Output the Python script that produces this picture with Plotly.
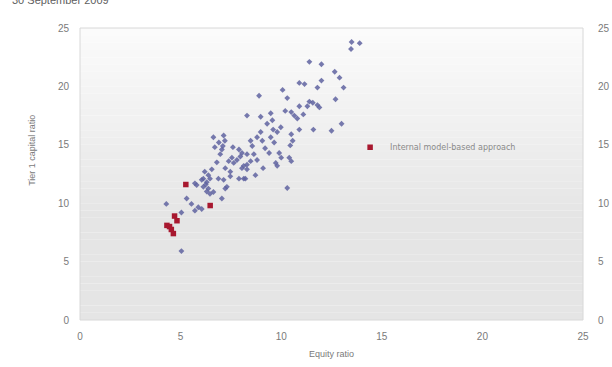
import plotly.graph_objects as go

# Other banks (equity ratio, tier 1 capital ratio)
other_x = [13.5, 13.9, 13.47, 11.4, 12.0, 12.66, 12.9, 12.0, 10.9, 11.16, 11.8, 13.1, 10.07, 8.9, 12.7,
           11.4, 11.57, 11.8, 11.3, 11.9, 10.9, 10.5, 10.65, 10.8, 9.48, 9.56, 9.98, 9.8, 10.9, 11.6,
           12.5, 13.0, 10.5, 8.3, 8.98, 9.3, 8.98, 8.8, 9.06, 8.48, 8.56, 9.48, 9.65, 10.57, 10.45,
           6.63, 7.14, 7.2, 6.9, 7.05, 6.97, 7.9, 8.05, 7.97, 7.8, 7.55, 7.64, 7.39, 8.3, 8.64,
           8.48, 9.4, 9.9, 10.4, 10.5, 9.73, 9.8, 8.14, 8.3, 7.22, 7.47, 6.2, 6.38, 6.13, 6.3,
           6.88, 7.14, 7.9, 8.72, 10.3, 6.13, 6.38, 6.63, 7.22, 7.05, 8.14, 7.47, 8.3, 8.05, 8.22,
           6.46, 6.05, 5.8, 6.25, 6.3, 6.46, 7.3, 5.54, 5.88, 5.71, 6.05, 5.3, 5.04, 4.29, 5.04,
           5.71, 6.7, 7.1, 9.2, 10.0, 9.1, 8.8, 7.6, 6.8, 6.55, 9.6, 10.2, 11.1, 10.3]
other_y = [23.8, 23.7, 23.2, 22.1, 21.9, 21.25, 20.75, 20.5, 20.3, 20.2, 19.9, 19.9, 19.7, 19.2, 18.9,
           18.7, 18.6, 18.4, 18.3, 18.2, 18.3, 17.8, 17.5, 17.25, 17.7, 17.1, 16.5, 16.1, 16.3, 16.3,
           16.2, 16.8, 15.9, 17.5, 17.4, 16.8, 16.1, 15.65, 15.35, 15.35, 14.9, 15.65, 15.2, 15.35, 14.95,
           15.65, 15.8, 15.35, 15.2, 14.6, 14.2, 14.6, 14.3, 14.0, 13.7, 13.9, 13.45, 13.6, 14.2, 14.2,
           13.6, 14.3, 14.3, 13.9, 13.6, 13.45, 13.2, 13.2, 12.9, 13.0, 12.7, 12.7, 12.4, 12.1, 11.8,
           12.1, 12.0, 12.1, 12.4, 11.3, 11.4, 11.25, 10.96, 11.25, 10.4, 12.1, 12.3, 13.3, 13.0, 12.1,
           12.1, 12.0, 11.55, 11.6, 11.0, 10.8, 11.4, 9.94, 9.65, 9.36, 9.5, 10.4, 9.2, 9.94, 5.9,
           11.7, 14.8, 14.9, 14.7, 13.9, 13.0, 13.7, 14.8, 13.5, 12.9, 16.3, 17.9, 17.6, 19.0]

# Internal model-based approach banks
irb_x = [5.26, 6.47, 4.7, 4.82, 4.32, 4.54, 4.64, 4.45]
irb_y = [11.6, 9.8, 8.9, 8.5, 8.1, 7.75, 7.4, 8.0]

tick_vals = [0, 5, 10, 15, 20, 25]

FONT = "Arial, Liberation Sans, sans-serif"
GREY = "#7a7a7a"

fig = go.Figure()
fig.add_trace(go.Scatter(x=other_x, y=other_y, mode="markers", showlegend=False,
                         marker=dict(symbol="diamond", size=4.5, color="#5f63a0", opacity=0.85),
                         name="Other"))
fig.add_trace(go.Scatter(x=irb_x, y=irb_y, mode="markers", name="Internal model-based approach",
                         marker=dict(symbol="square", size=5.5, color="#a8182f")))
# invisible trace for right axis
fig.add_trace(go.Scatter(x=[None], y=[None], yaxis="y2", showlegend=False, hoverinfo="skip"))

# vertical gradient background (white at top to light grey)
n = 40
shapes = []
for i in range(n):
    t = i / (n - 1)
    f = min(1.0, t / 0.65)
    top_c = (251, 251, 251)
    bot_c = (229, 229, 229)
    c = tuple(int(round(top_c[k] + (bot_c[k] - top_c[k]) * f)) for k in range(3))
    shapes.append(dict(type="rect", xref="paper", yref="paper",
                       x0=0, x1=1, y1=1 - i / n, y0=1 - (i + 1) / n,
                       fillcolor="rgb(%d,%d,%d)" % c, line=dict(width=0), layer="below"))
shapes.append(dict(type="rect", xref="paper", yref="paper", x0=0, x1=1, y0=0, y1=1,
                   line=dict(color="#d8d8d8", width=1), fillcolor="rgba(0,0,0,0)", layer="above"))

fig.update_layout(
    width=612, height=367,
    margin=dict(l=80, r=29, t=28, b=47),
    paper_bgcolor="white", plot_bgcolor="rgba(0,0,0,0)",
    font=dict(family=FONT, size=10, color=GREY),
    shapes=shapes,
    xaxis=dict(range=[0, 25], tickvals=tick_vals, showgrid=False, zeroline=False,
               showline=False, ticks="", tickfont=dict(size=10, color=GREY), automargin=False,
               ticklabelstandoff=9,
               title=dict(text="Equity ratio", font=dict(size=9, color=GREY), standoff=9)),
    yaxis=dict(range=[0, 25], tickvals=tick_vals, showgrid=False, zeroline=False,
               showline=False, ticks="", tickfont=dict(size=10, color=GREY),
               ticklabelstandoff=10, automargin=False),
    yaxis2=dict(range=[0, 25], tickvals=tick_vals, overlaying="y", side="right",
                showgrid=False, zeroline=False, showline=False, ticks="", automargin=False,
                tickfont=dict(size=10, color=GREY), ticklabelstandoff=14),
    legend=dict(x=0.537, y=0.592, xanchor="left", yanchor="middle", bgcolor="rgba(0,0,0,0)",
                font=dict(family="DejaVu Sans, sans-serif", size=8, color="#8a8a8a"),
                itemwidth=30),
    annotations=[
        dict(text="Tier 1 capital ratio", textangle=-90, xref="paper", yref="paper",
             x=-0.097, y=0.58, xanchor="center", yanchor="middle", showarrow=False,
             font=dict(size=9, color=GREY)),
        dict(text="30 September 2009", xref="paper", yref="paper", x=-0.14, y=1.07,
             xanchor="left", yanchor="bottom", showarrow=False,
             font=dict(size=11, color="#606060")),
    ],
)

fig.write_html("out.html", config={"displayModeBar": False},
               post_script="document.body.style.margin='0';")
